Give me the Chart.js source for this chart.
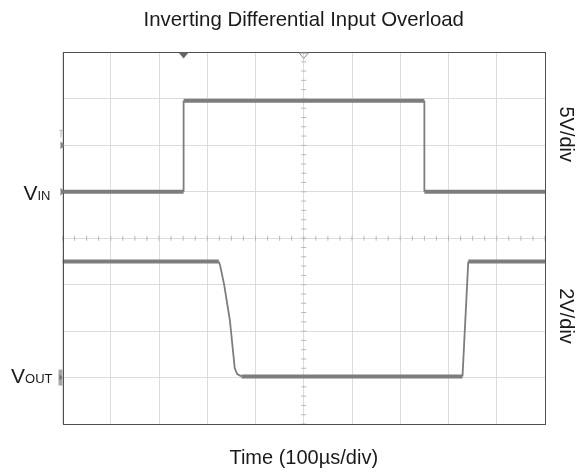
<!DOCTYPE html>
<html>
<head>
<meta charset="utf-8">
<script src="https://cdn.jsdelivr.net/npm/chart.js@4/dist/chart.umd.min.js"></script>
<style>
  html, body { margin: 0; padding: 0; background: #ffffff; }
  #wrap { width: 576px; height: 473px; }
</style>
</head>
<body>
<div id="wrap"><canvas id="c" width="576" height="473"></canvas></div>
<script>
// ---- data (time in µs, voltages in V) ----
const vinTime  = [0, 251, 251, 750, 750, 1000];
const vinVolts = [0, 0, 9.8, 9.8, 0, 0];
const voutTime  = [0, 324, 327, 335, 347, 357, 362, 371, 829, 841, 1000];
const voutVolts = [5.0, 5.0, 4.8, 4.0, 2.45, 0.4, 0.15, 0.05, 0.05, 5.0, 5.0];

const titleText = 'Inverting Differential Input Overload';
const xTitleText = 'Time (100\u00b5s/div)';
const vinScaleText = '5V/div';
const voutScaleText = '2V/div';

const FONT = '"Liberation Sans", Arial, sans-serif';
const TRACE = '#7d7d7d';

function pts(xs, ys) { return xs.map((x, i) => ({ x: x, y: ys[i] })); }

const segW = ctx => (Math.abs(ctx.p1.parsed.y - ctx.p0.parsed.y) < 0.01) ? 4 : 1.8;

const scopePlugin = {
  id: 'scope',
  beforeDatasetsDraw(chart) {
    const { ctx, chartArea: a, scales } = chart;
    const x = scales.x, y = scales.y;
    ctx.save();
    ctx.strokeStyle = '#b8b8b8';
    ctx.lineWidth = 1;
    // minor ticks on horizontal center line
    const yc = y.getPixelForValue(4);
    for (let t = 0; t <= 1000; t += 25) {
      const px = x.getPixelForValue(t);
      ctx.beginPath(); ctx.moveTo(px, yc - 2.5); ctx.lineTo(px, yc + 2.5); ctx.stroke();
    }
    // minor ticks on vertical center line
    const xc = x.getPixelForValue(500);
    for (let v = 0; v <= 8.001; v += 0.2) {
      const py = y.getPixelForValue(v);
      ctx.beginPath(); ctx.moveTo(xc - 2.5, py); ctx.lineTo(xc + 2.5, py); ctx.stroke();
    }
    ctx.restore();
  },
  afterDraw(chart) {
    const { ctx, chartArea: a, scales } = chart;
    const x = scales.x, yin = scales.yin, yout = scales.yout;
    ctx.save();
    // frame
    ctx.strokeStyle = '#505050';
    ctx.lineWidth = 1;
    ctx.strokeRect(Math.round(a.left) + 0.5, Math.round(a.top) + 0.5, Math.round(a.right - a.left) - 1, Math.round(a.bottom - a.top));
    // trigger position marker (filled) and center marker (hollow)
    const tx = x.getPixelForValue(vinTime[1]);
    ctx.fillStyle = '#666666';
    ctx.beginPath(); ctx.moveTo(tx - 5, a.top); ctx.lineTo(tx + 5, a.top); ctx.lineTo(tx, a.top + 6); ctx.closePath(); ctx.fill();
    const cx = x.getPixelForValue(500);
    ctx.strokeStyle = '#909090';
    ctx.beginPath(); ctx.moveTo(cx - 4.5, a.top + 0.5); ctx.lineTo(cx + 4.5, a.top + 0.5); ctx.lineTo(cx, a.top + 6); ctx.closePath(); ctx.stroke();
    // left channel markers
    const trigY = yin.getPixelForValue(5);
    ctx.fillStyle = '#808080';
    ctx.beginPath(); ctx.moveTo(a.left - 2, trigY - 4); ctx.lineTo(a.left + 2, trigY); ctx.lineTo(a.left - 2, trigY + 4); ctx.closePath(); ctx.fill();
    ctx.strokeStyle = '#b0b0b0';
    ctx.beginPath(); ctx.moveTo(a.left - 3, trigY - 15); ctx.lineTo(a.left + 0, trigY - 15); ctx.moveTo(a.left - 1.5, trigY - 15); ctx.lineTo(a.left - 1.5, trigY - 8); ctx.stroke();
    const g1 = yin.getPixelForValue(0);
    ctx.beginPath(); ctx.moveTo(a.left - 2, g1 - 4); ctx.lineTo(a.left + 2, g1); ctx.lineTo(a.left - 2, g1 + 4); ctx.closePath(); ctx.fill();
    const g2 = yout.getPixelForValue(0);
    ctx.fillStyle = '#a8a8a8';
    ctx.fillRect(a.left - 4, g2 - 8, 4, 16);
    ctx.fillStyle = '#707070';
    ctx.beginPath(); ctx.moveTo(a.left - 3, g2 - 3); ctx.lineTo(a.left, g2); ctx.lineTo(a.left - 3, g2 + 3); ctx.closePath(); ctx.fill();

    // channel labels
    ctx.fillStyle = '#1a1a1a';
    ctx.textBaseline = 'alphabetic';
    function chanLabel(main, sub, baseY, rightX) {
      ctx.font = '13px ' + FONT;
      const ws = ctx.measureText(sub).width;
      ctx.font = '21px ' + FONT;
      const wm = ctx.measureText(main).width;
      const left = rightX - ws - wm;
      ctx.textAlign = 'left';
      ctx.fillText(main, left, baseY);
      ctx.font = '13px ' + FONT;
      ctx.fillText(sub, left + wm, baseY);
    }
    chanLabel('V', 'IN', g1 + 8.5, a.left - 12);
    chanLabel('V', 'OUT', g2 + 5, a.left - 10);

    // per-division labels on the right (rotated)
    ctx.font = '20px ' + FONT;
    ctx.textAlign = 'center';
    ctx.textBaseline = 'middle';
    function rot(text, px, py) {
      ctx.save(); ctx.translate(px, py); ctx.rotate(Math.PI / 2); ctx.fillText(text, 0, 0); ctx.restore();
    }
    rot(vinScaleText, a.right + 21, yin.getPixelForValue(6.2));
    rot(voutScaleText, a.right + 21, yout.getPixelForValue(2.65));
    ctx.restore();
  }
};

new Chart(document.getElementById('c'), {
  type: 'line',
  data: {
    datasets: [
      { label: 'VIN', data: pts(vinTime, vinVolts), yAxisID: 'yin', borderColor: TRACE, borderWidth: 4,
        pointRadius: 0, tension: 0, borderJoinStyle: 'miter', segment: { borderWidth: segW } },
      { label: 'VOUT', data: pts(voutTime, voutVolts), yAxisID: 'yout', borderColor: TRACE, borderWidth: 4,
        pointRadius: 0, tension: 0, borderJoinStyle: 'miter', segment: { borderWidth: segW } }
    ]
  },
  options: {
    responsive: false,
    animation: false,
    events: [],
    layout: { padding: { left: 62.5, right: 31, top: 0, bottom: 0 } },
    plugins: {
      legend: { display: false },
      tooltip: { enabled: false },
      title: { display: true, text: titleText, color: '#1a1a1a', font: { family: FONT, size: 20.4, weight: 'normal' },
               padding: { top: 8, bottom: 20 } }
    },
    scales: {
      x: { type: 'linear', min: 0, max: 1000,
           ticks: { display: false, stepSize: 100 },
           grid: { color: '#dcdcdc', drawTicks: false, lineWidth: 1 },
           border: { display: false },
           title: { display: true, text: xTitleText, color: '#1a1a1a', font: { family: FONT, size: 20 }, padding: { top: 22, bottom: 3 } } },
      y: { type: 'linear', min: 0, max: 8,
           ticks: { display: false, stepSize: 1 },
           grid: { color: '#dcdcdc', drawTicks: false, lineWidth: 1 },
           border: { display: false } },
      yin: { type: 'linear', min: -25, max: 15, display: false },
      yout: { type: 'linear', min: -2, max: 14, display: false }
    }
  },
  plugins: [scopePlugin]
});
</script>
</body>
</html>
